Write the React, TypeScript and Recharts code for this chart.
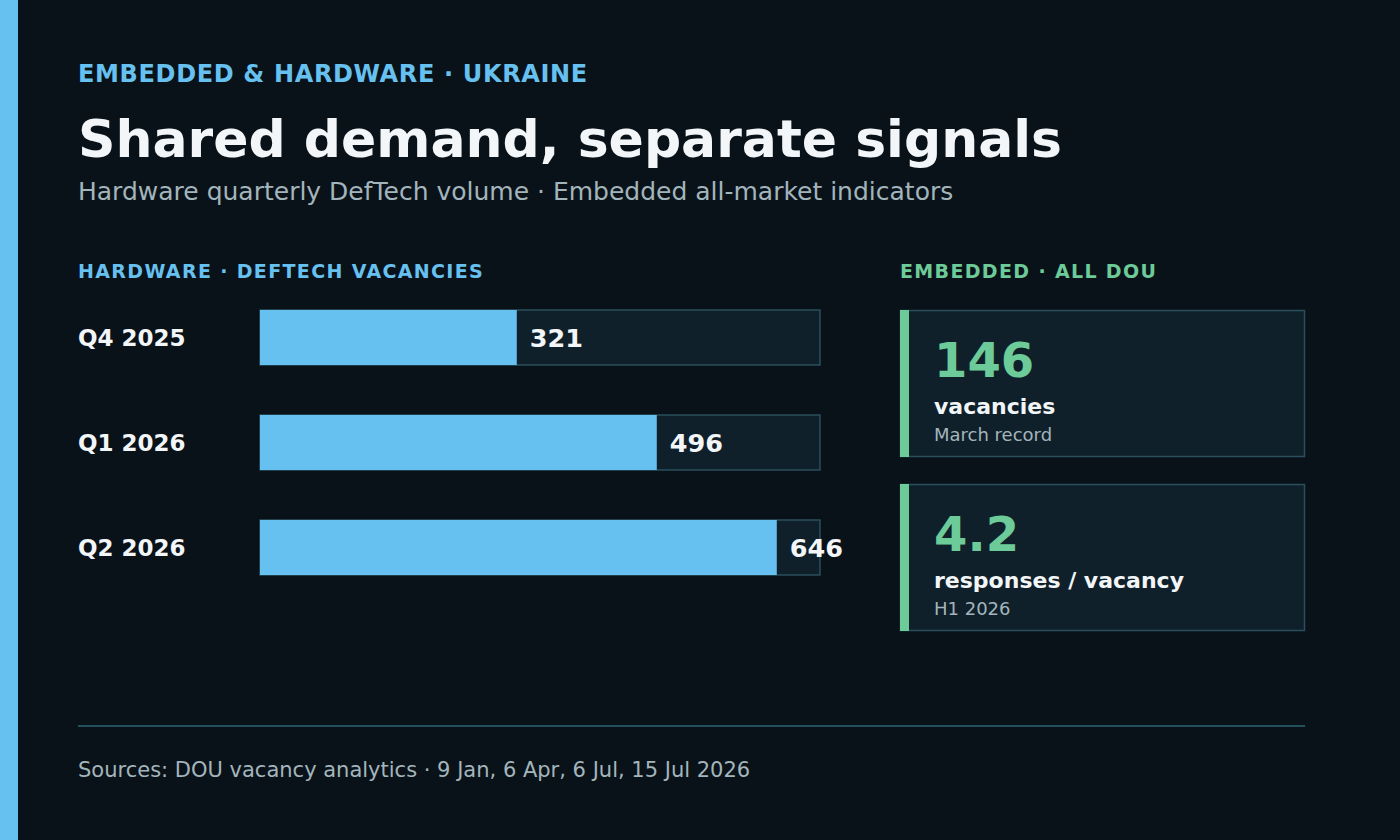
import React from "react";
import { BarChart, Bar, XAxis, YAxis, LabelList } from "recharts";

const quarters = ["Q4 2025", "Q1 2026", "Q2 2026"];
const deftechVacancies = [321, 496, 646];
const kpiValues = ["146", "4.2"];
const kpiLabels = ["vacancies", "responses / vacancy"];
const kpiNotes = ["March record", "H1 2026"];

const data = quarters.map((q, i) => ({ quarter: q, value: deftechVacancies[i] }));

const FONT = "'DejaVu Sans', sans-serif";
const BG = "#0a1219";
const BLUE = "#67c1f0";
const GREEN = "#6ccb98";
const WHITE = "#f3f6f8";
const GRAY = "#a3b5bc";
const TRACK = "#10202a";
const BORDER = "#2a4f5c";

const CategoryTick = (props: any) => {
  const { y, payload } = props;
  return (
    <text x={78} y={y} dy={8} textAnchor="start" fill={WHITE} fontFamily={FONT} fontWeight={700} fontSize={23}>
      {payload.value}
    </text>
  );
};

export default function App() {
  return (
    <div style={{ position: "absolute", left: 0, top: 0, width: 1400, height: 840, background: BG, overflow: "hidden" }}>
      <svg width={1400} height={840} style={{ position: "absolute", left: 0, top: 0 }} fontFamily={FONT}>
        <rect x={0} y={0} width={18} height={840} fill={BLUE} />
        <text x={78} y={82} fill={BLUE} fontSize={24} fontWeight={700} letterSpacing={0.65}>
          EMBEDDED &amp; HARDWARE · UKRAINE
        </text>
        <text x={78} y={157} fill={WHITE} fontSize={52} fontWeight={700}>
          Shared demand, separate signals
        </text>
        <text x={78} y={200} fill={GRAY} fontSize={25}>
          Hardware quarterly DefTech volume · Embedded all-market indicators
        </text>
        <text x={78} y={278} fill={BLUE} fontSize={19} fontWeight={700} letterSpacing={1.35}>
          HARDWARE · DEFTECH VACANCIES
        </text>
        <text x={900} y={278} fill={GREEN} fontSize={19} fontWeight={700} letterSpacing={1.35}>
          EMBEDDED · ALL DOU
        </text>
        {kpiValues.map((v, i) => {
          const top = 310 + i * 174;
          return (
            <g key={v}>
              <rect x={900.5} y={top + 0.5} width={404} height={146} fill={TRACK} stroke={BORDER} strokeWidth={1.5} />
              <rect x={900} y={top} width={9} height={147} fill={GREEN} />
              <text x={934} y={top + 67} fill={GREEN} fontSize={48} fontWeight={700}>{v}</text>
              <text x={934} y={top + 104} fill={WHITE} fontSize={22} fontWeight={700}>{kpiLabels[i]}</text>
              <text x={934} y={top + 131} fill={GRAY} fontSize={18}>{kpiNotes[i]}</text>
            </g>
          );
        })}
        <rect x={78} y={725} width={1227} height={2} fill="#23505c" />
        <text x={78} y={777} fill={GRAY} fontSize={21}>
          Sources: DOU vacancy analytics · 9 Jan, 6 Apr, 6 Jul, 15 Jul 2026
        </text>
      </svg>
      <div style={{ position: "absolute", left: 0, top: 0 }}>
        <BarChart
          width={1400}
          height={840}
          data={data}
          layout="vertical"
          margin={{ top: 285, right: 580, bottom: 240, left: 78 }}
        >
          <XAxis type="number" domain={[0, 700]} hide />
          <YAxis
            type="category"
            dataKey="quarter"
            width={182}
            axisLine={false}
            tickLine={false}
            tick={<CategoryTick />}
          />
          <Bar
            dataKey="value"
            fill={BLUE}
            barSize={55}
            isAnimationActive={false}
            background={{ fill: TRACK, stroke: BORDER, strokeWidth: 1.5 }}
          >
            <LabelList
              dataKey="value"
              position="right"
              offset={13}
              fill={WHITE}
              fontFamily={FONT}
              fontWeight={700}
              fontSize={25.5}
            />
          </Bar>
        </BarChart>
      </div>
    </div>
  );
}
